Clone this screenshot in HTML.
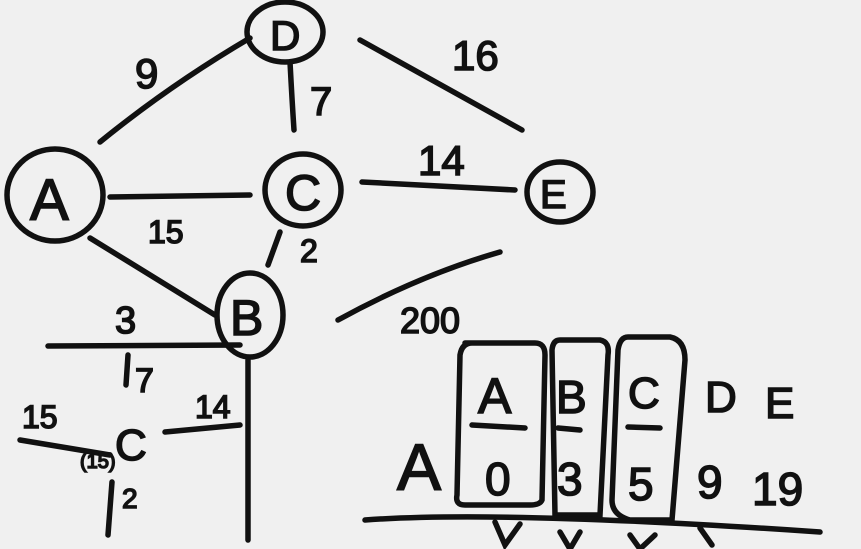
<!DOCTYPE html>
<html><head><meta charset="utf-8"><style>
html,body{margin:0;padding:0;background:#f2f2f2;}
svg{display:block}
text{font-family:"Liberation Sans",sans-serif;fill:#111;stroke:#111;stroke-width:1.6px;}
</style></head><body>
<svg width="861" height="549" viewBox="0 0 861 549">
<rect x="0" y="0" width="861" height="549" fill="#f0f0f0"/>
<g fill="none" stroke="#111" stroke-width="5.5" stroke-linecap="round">
<ellipse cx="285" cy="32" rx="38" ry="30"/>
<ellipse cx="55" cy="195" rx="48" ry="46"/>
<ellipse cx="303" cy="190" rx="38" ry="36"/>
<ellipse cx="560" cy="192" rx="33" ry="30"/>
<ellipse cx="250" cy="315" rx="33" ry="42"/>
<path d="M100 142 Q170 85 250 38"/>
<path d="M290 62 Q292 100 294 130"/>
<path d="M360 40 L522 130"/>
<path d="M110 197 L250 195"/>
<path d="M362 182 L515 190"/>
<path d="M280 232 L268 265"/>
<path d="M90 238 L215 315"/>
<path d="M338 320 Q420 275 500 252"/>
<path d="M48 346 L240 345"/>
<path d="M248 360 L248 540"/>
<path d="M165 432 L240 425"/>
<path d="M20 440 L110 455"/>
<path d="M112 482 L108 535"/>
<path d="M128 355 L126 385"/>
<path d="M465 343 L535 343 Q545 343 545 355 L542 500 Q540 505 530 505 L465 505 Q455 505 457 495 L460 355 Q462 343 472 343"/>
<path d="M560 340 L600 340 Q610 342 608 355 L600 515 L555 515 L552 350 Q553 340 560 340"/>
<path d="M628 337 L670 337 Q685 340 685 360 L672 520 L630 520 Q612 515 612 500 L618 350 Q620 337 628 337"/>
<path d="M365 520 Q500 510 820 532"/>
<path d="M472 425 L525 428"/>
<path d="M558 428 L580 430"/>
<path d="M628 427 L660 428"/>
<path d="M495 522 L505 545 L520 524 M560 532 L570 549 L580 532 M630 535 L640 549 L655 535 M700 528 L712 545"/>
</g>
<g>
<text x="270" y="50" font-size="42">D</text>
<text x="30" y="220" font-size="58">A</text>
<text x="285" y="210" font-size="50">C</text>
<text x="540" y="208" font-size="40">E</text>
<text x="230" y="335" font-size="50">B</text>
<text x="135" y="88" font-size="42">9</text>
<text x="310" y="115" font-size="40">7</text>
<text x="452" y="70" font-size="42">16</text>
<text x="148" y="243" font-size="32">15</text>
<text x="418" y="175" font-size="42">14</text>
<text x="300" y="262" font-size="32">2</text>
<text x="400" y="333" font-size="36">200</text>
<text x="115" y="333" font-size="38">3</text>
<text x="135" y="392" font-size="34">7</text>
<text x="115" y="460" font-size="44">C</text>
<text x="195" y="418" font-size="32">14</text>
<text x="22" y="428" font-size="32">15</text>
<text x="80" y="468" font-size="20">(15)</text>
<text x="122" y="508" font-size="28">2</text>
<text x="397" y="490" font-size="66">A</text>
<text x="478" y="413" font-size="50">A</text>
<text x="556" y="413" font-size="46">B</text>
<text x="628" y="408" font-size="44">C</text>
<text x="705" y="412" font-size="44">D</text>
<text x="765" y="418" font-size="44">E</text>
<text x="485" y="495" font-size="46">0</text>
<text x="557" y="495" font-size="46">3</text>
<text x="628" y="500" font-size="46">5</text>
<text x="697" y="498" font-size="46">9</text>
<text x="752" y="505" font-size="46">19</text>
</g>
</svg>
</body></html>
